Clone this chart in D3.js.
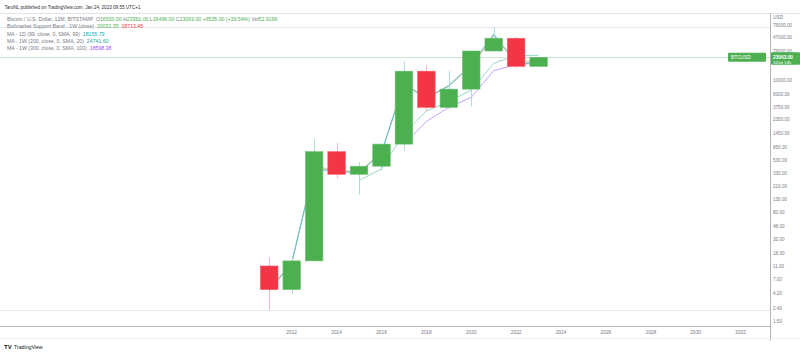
<!DOCTYPE html>
<html><head><meta charset="utf-8">
<script src="https://cdn.jsdelivr.net/npm/d3@7"></script>
<style>
html,body{margin:0;padding:0;background:#fff;}
svg{display:block;font-family:"Liberation Sans",Arial,sans-serif;}
</style></head><body>
<svg id="chart" width="800" height="353"></svg>
<script>
// ---- data ----
const years  = [2011,2012,2013,2014,2015,2016,2017,2018,2019,2020,2021,2022,2023];
const opens  = [11.2, 4.72, 13.5, 731, 320, 430, 964, 13860, 3693, 7195, 28990, 46200, 16530];
const highs  = [15.4, 15.3, 1163, 1000, 495, 980, 19666, 17200, 13880, 29300, 69000, 48190, 23362];
const lows   = [2.22, 4.1, 13.3, 276, 152, 365, 752, 3150, 3400, 3850, 28800, 15476, 16496];
const closes = [4.72, 13.5, 731, 320, 430, 964, 13860, 3693, 7195, 28990, 46200, 16530, 23063];
const ma99D   = [4.4, 12.6, 380, 360, 330, 700, 8500, 5200, 8000, 17500, 54000, 18500, 18155.79];
const bandSma = [4.9, 12.4, 400, 370, 345, 720, 9000, 5000, 8300, 17500, 52000, 19800, 20031.35];
const bandEma = [5.1, 12.0, 420, 380, 340, 700, 8700, 5400, 8100, 16500, 50000, 19000, 18713.45];
const ma200W  = [null, null, null, null, 255, 388, 1420, 3240, 4550, 6970, 18500, 24600, 24741.60];
const ma300W  = [null, null, null, null, null, null, 968, 2200, 3700, 5330, 14100, 17700, 18598.38];
const yTicks  = [75000, 47000, 29000, 10000, 6000, 3750, 2350, 1450, 850, 530, 330, 210, 130, 80, 48, 30, 18, 11, 7, 4.2, 2.4, 1.5];
const xTicks  = [2012,2014,2016,2018,2020,2022,2024,2026,2028,2030,2032];
const allTimeHigh = 69000, allTimeLow = 2.22, lastPrice = 23063;

// ---- scales ----
const svg = d3.select("#chart");
const x = d3.scaleLinear().domain([2012, 2032]).range([291.7, 740.6]);
const y = d3.scaleLog().domain([1.5, 75000]).range([321, 25]);
const step = x(2013) - x(2012);
const bw = step * 0.78;

const GREEN = "#4caf50", RED = "#f23645";

// frame lines
svg.append("line").attr("x1",0).attr("x2",800).attr("y1",13.5).attr("y2",13.5).attr("stroke","#e0e3eb");
svg.append("line").attr("x1",770.5).attr("x2",770.5).attr("y1",13.5).attr("y2",341).attr("stroke","#b2b5be");
svg.append("line").attr("x1",0).attr("x2",771).attr("y1",326.5).attr("y2",326.5).attr("stroke","#b2b5be");
svg.append("line").attr("x1",0).attr("x2",800).attr("y1",338.5).attr("y2",338.5).attr("stroke","#f0f0f0");

// high / low / price lines
[allTimeHigh, allTimeLow].forEach(v => {
  svg.append("line").attr("x1",0).attr("x2",770).attr("y1",Math.round(y(v))+0.5).attr("y2",Math.round(y(v))+0.5)
    .attr("stroke","#e6e8ee");
});
svg.append("line").attr("x1",0).attr("x2",770).attr("y1",Math.round(y(lastPrice))+0.5).attr("y2",Math.round(y(lastPrice))+0.5)
  .attr("stroke","#cfe3d0");

// indicator lines
function drawLine(vals, color, w, op){
  const pts = years.map((yr,i)=>[yr, vals[i]]).filter(d=>d[1]!=null);
  svg.append("path").datum(pts)
    .attr("d", d3.line().x(d=>x(d[0])).y(d=>y(d[1])))
    .attr("fill","none").attr("stroke",color).attr("stroke-width",w).attr("opacity",op);
}
drawLine(ma300W, "#b58cff", 1, 0.8);
drawLine(ma200W, "#8fd3c4", 1, 0.9);
drawLine(bandEma, "#f7a59a", 1, 0.8);
drawLine(bandSma, "#9fc79a", 1, 0.8);
drawLine(ma99D, "#4fc3d7", 1, 0.85);

// candles
const cg = svg.append("g");
years.forEach((yr,i)=>{
  const up = closes[i] >= opens[i];
  const col = up ? GREEN : RED;
  const cx = Math.round(x(yr)) + 0.5;
  cg.append("line").attr("x1",cx).attr("x2",cx).attr("y1",y(highs[i])).attr("y2",y(lows[i]))
    .attr("stroke", up ? "#a9dbe0" : "#f7b9bf").attr("stroke-width",1);
  const top = y(Math.max(opens[i],closes[i])), bot = y(Math.min(opens[i],closes[i]));
  cg.append("rect").attr("x", x(yr)-bw/2).attr("y", top).attr("width", bw).attr("height", Math.max(1, bot-top))
    .attr("fill", col).attr("stroke", up ? "#6cc070" : "#f55a66").attr("stroke-width",0.6);
});

// y axis labels
svg.append("text").attr("x",773).attr("y",19).attr("font-size",4.8).attr("fill","#787b86").text("USD");
yTicks.forEach(v=>{
  svg.append("text").attr("x",773).attr("y",y(v)+1.7).attr("font-size",4.6).attr("fill","#787b86")
    .text(d3.format(".2f")(v));
});
// x axis labels
xTicks.forEach(v=>{
  svg.append("text").attr("x",x(v)).attr("y",334).attr("text-anchor","middle").attr("font-size",4.8)
    .attr("fill","#787b86").text(v);
});

// price labels
const py = y(lastPrice);
svg.append("rect").attr("x",771).attr("y",py-5).attr("width",29).attr("height",12.5).attr("fill",GREEN).attr("rx",1);
svg.append("text").attr("x",773).attr("y",py+1.5).attr("font-size",4.8).attr("fill","#fff").attr("font-weight","bold").text("23063.00");
svg.append("text").attr("x",773).attr("y",py+6.3).attr("font-size",4.4).attr("fill","#fff").text("341d 14h");
svg.append("rect").attr("x",728).attr("y",py-4.5).attr("width",38).attr("height",9).attr("fill",GREEN).attr("rx",1);
svg.append("text").attr("x",731).attr("y",py+1.6).attr("font-size",4.8).attr("fill","#fff").text("BTCUSD");

// header
svg.append("text").attr("x",4.5).attr("y",8.5).attr("font-size",4.6).attr("fill","#2a2e39").text("TaroNL published on TradingView.com, Jan 24, 2023 09:55 UTC+1");

// legend
const LG = "#787b86";
function legendLine(yy, parts){
  const t = svg.append("text").attr("x",7).attr("y",yy).attr("font-size",5.2).attr("xml:space","preserve");
  parts.forEach(p=>t.append("tspan").attr("fill",p[1]).text(p[0]));
}
legendLine(21, [["Bitcoin / U.S. Dollar, 12M, BITSTAMP  ",LG],["O",LG],["16530.00 ",GREEN],["H",LG],["23362.00 ",GREEN],
  ["L",LG],["16496.00 ",GREEN],["C",LG],["23063.00 ",GREEN],["+6535.00 (+39.54%) ",GREEN],["Vol",LG],["52.919K",GREEN]]);
legendLine(28.3, [["Bullmarket Support Band - 1W (close)  ",LG],["20031.35  ",GREEN],["18713.45","#f23645"]]);
legendLine(35.6, [["MA - 1D (99, close, 0, SMA, 99)  ",LG],["18155.79","#00acc1"]]);
legendLine(42.9, [["MA - 1W (200, close, 0, SMA, 20)  ",LG],["24741.60","#26a69a"]]);
legendLine(50.2, [["MA - 1W (300, close, 0, SMA, 100)  ",LG],["18598.38","#9c4dff"]]);

// footer logo
svg.append("text").attr("x",4).attr("y",349).attr("font-size",6).attr("font-weight","bold").attr("fill","#131722").text("TV");
svg.append("text").attr("x",14).attr("y",349).attr("font-size",5.2).attr("fill","#131722").text("TradingView");
</script>
</body></html>
